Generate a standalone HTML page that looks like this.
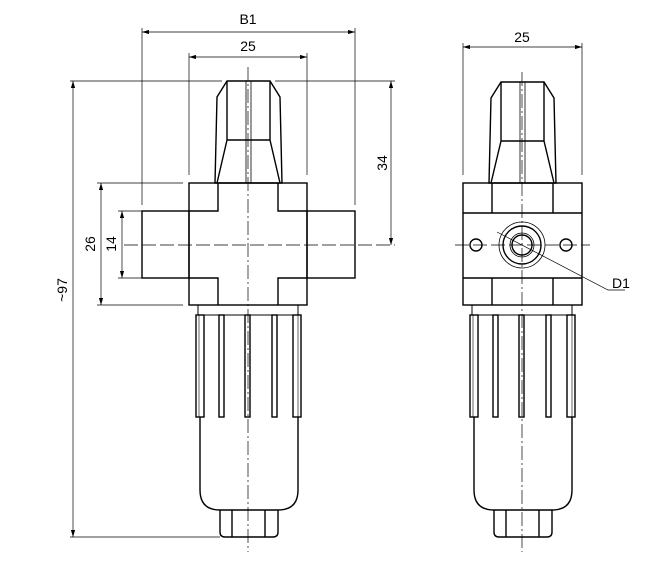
<!DOCTYPE html>
<html><head><style>body{margin:0;background:#fff}svg{display:block}</style></head><body>
<svg width="667" height="568" viewBox="0 0 667 568" xmlns="http://www.w3.org/2000/svg" font-family="Liberation Sans, sans-serif" font-size="14" fill="none" stroke="#000">
<defs><marker id="a" viewBox="0 0 10 6" refX="10" refY="3" markerWidth="10" markerHeight="6" orient="auto-start-reverse"><path d="M0,0L10,3L0,6z" fill="#000" stroke="none"/></marker></defs>
<g stroke-width="0.7">
<!-- left dims -->
<line x1="142" y1="32" x2="355" y2="32" marker-start="url(#a)" marker-end="url(#a)"/>
<line x1="142" y1="28" x2="142" y2="205"/><line x1="355" y1="28" x2="355" y2="205"/>
<line x1="189" y1="57" x2="307" y2="57" marker-start="url(#a)" marker-end="url(#a)"/>
<line x1="189" y1="53" x2="189" y2="175"/><line x1="307" y1="53" x2="307" y2="175"/>
<line x1="70" y1="81" x2="222" y2="81"/><line x1="275" y1="81" x2="395" y2="81"/>
<line x1="391" y1="81" x2="391" y2="245" marker-start="url(#a)" marker-end="url(#a)"/>
<line x1="73" y1="81" x2="73" y2="537" marker-start="url(#a)" marker-end="url(#a)"/>
<line x1="70" y1="537" x2="220" y2="537"/>
<line x1="101" y1="183" x2="101" y2="305" marker-start="url(#a)" marker-end="url(#a)"/>
<line x1="97" y1="183" x2="183" y2="183"/><line x1="97" y1="305" x2="183" y2="305"/>
<line x1="122" y1="211" x2="122" y2="278" marker-start="url(#a)" marker-end="url(#a)"/>
<line x1="118" y1="211" x2="142" y2="211"/><line x1="118" y1="278" x2="142" y2="278"/>
<line x1="124" y1="245" x2="395" y2="245" stroke-dasharray="14,4"/>
<line x1="248" y1="67" x2="248" y2="552" stroke-dasharray="14,3,2,3"/>
<!-- right dims -->
<line x1="463" y1="47" x2="582" y2="47" marker-start="url(#a)" marker-end="url(#a)"/>
<line x1="463" y1="43" x2="463" y2="175"/><line x1="582" y1="43" x2="582" y2="175"/>
<line x1="455" y1="245" x2="590" y2="245" stroke-dasharray="14,4"/>
<line x1="522" y1="72" x2="522" y2="552" stroke-dasharray="14,3,2,3"/>
<polyline points="497,232 608,290 625,290"/>
</g>
<g fill="#000" stroke="none">
<text x="248" y="24" text-anchor="middle">B1</text>
<text x="248" y="51" text-anchor="middle">25</text>
<text x="522" y="42" text-anchor="middle">25</text>
<text x="621" y="288" text-anchor="middle">D1</text>
<text transform="translate(387,163) rotate(-90)" text-anchor="middle">34</text>
<text transform="translate(95,244) rotate(-90)" text-anchor="middle">26</text>
<text transform="translate(116,244) rotate(-90)" text-anchor="middle">14</text>
<text transform="translate(67,290) rotate(-90)" text-anchor="middle">~97</text>
</g>
<g stroke-width="1.4">
<!-- left view -->
<g id="knobL">
<polygon points="227,81 270,81 280,97 282,183 215,183 217,97"/>
<line x1="227" y1="81" x2="227" y2="140"/><line x1="270" y1="81" x2="270" y2="140"/>
<line x1="227" y1="140" x2="270" y2="140"/>
<line x1="227" y1="140" x2="217" y2="183"/><line x1="270" y1="140" x2="280" y2="183"/>
<line x1="246" y1="81" x2="246" y2="183" stroke-width="0.8"/><line x1="251" y1="81" x2="251" y2="183" stroke-width="0.8"/>
</g>
<rect x="189" y="183" width="118" height="122"/>
<rect x="142" y="211" width="47" height="67"/><rect x="307" y="211" width="48" height="67"/>
<polyline points="189,211 218,211 218,183"/><polyline points="307,211 278,211 278,183"/>
<polyline points="189,278 218,278 218,305"/><polyline points="307,278 278,278 278,305"/>
<g id="bowlL">
<rect x="198" y="305" width="100" height="10" stroke-width="1"/>
<rect x="196" y="315" width="8" height="102"/><rect x="219" y="315" width="5" height="102"/>
<rect x="245" y="315" width="5" height="102"/><rect x="272" y="315" width="5" height="102"/>
<rect x="293" y="315" width="8" height="102"/>
<line x1="199" y1="315" x2="199" y2="417" stroke-width="0.6"/><line x1="298" y1="315" x2="298" y2="417" stroke-width="0.6"/>
<path d="M200,417 V490 Q200,510 220,510 H278 Q298,510 298,490 V417"/>
<path d="M220,510 V532 Q220,537 225,537 H273 Q278,537 278,532 V510"/>
<line x1="232" y1="510" x2="232" y2="537"/><line x1="265" y1="510" x2="265" y2="537"/>
</g>
<!-- right view -->
<g transform="translate(274,1)">
<polygon points="227,81 270,81 280,97 282,182 215,182 217,97"/>
<line x1="227" y1="81" x2="227" y2="140"/><line x1="270" y1="81" x2="270" y2="140"/>
<line x1="227" y1="140" x2="270" y2="140"/>
<line x1="227" y1="140" x2="217" y2="182"/><line x1="270" y1="140" x2="280" y2="182"/>
<line x1="246" y1="81" x2="246" y2="182" stroke-width="0.8"/><line x1="251" y1="81" x2="251" y2="182" stroke-width="0.8"/>
</g>
<rect x="463" y="183" width="119" height="122"/>
<line x1="463" y1="213" x2="582" y2="213"/><line x1="463" y1="278" x2="582" y2="278"/>
<line x1="492" y1="183" x2="492" y2="213"/><line x1="553" y1="183" x2="553" y2="213"/>
<line x1="492" y1="278" x2="492" y2="305"/><line x1="553" y1="278" x2="553" y2="305"/>
<circle cx="522" cy="245" r="23" stroke-width="0.8"/>
<circle cx="522" cy="245" r="19"/>
<circle cx="522" cy="245" r="12" stroke-width="0.8"/>
<circle cx="522" cy="245" r="10"/>
<circle cx="476" cy="245" r="6"/><circle cx="566" cy="245" r="6"/>
<g transform="translate(274,0)"><use href="#bowlL"/></g>
</g>
</svg>
</body></html>
